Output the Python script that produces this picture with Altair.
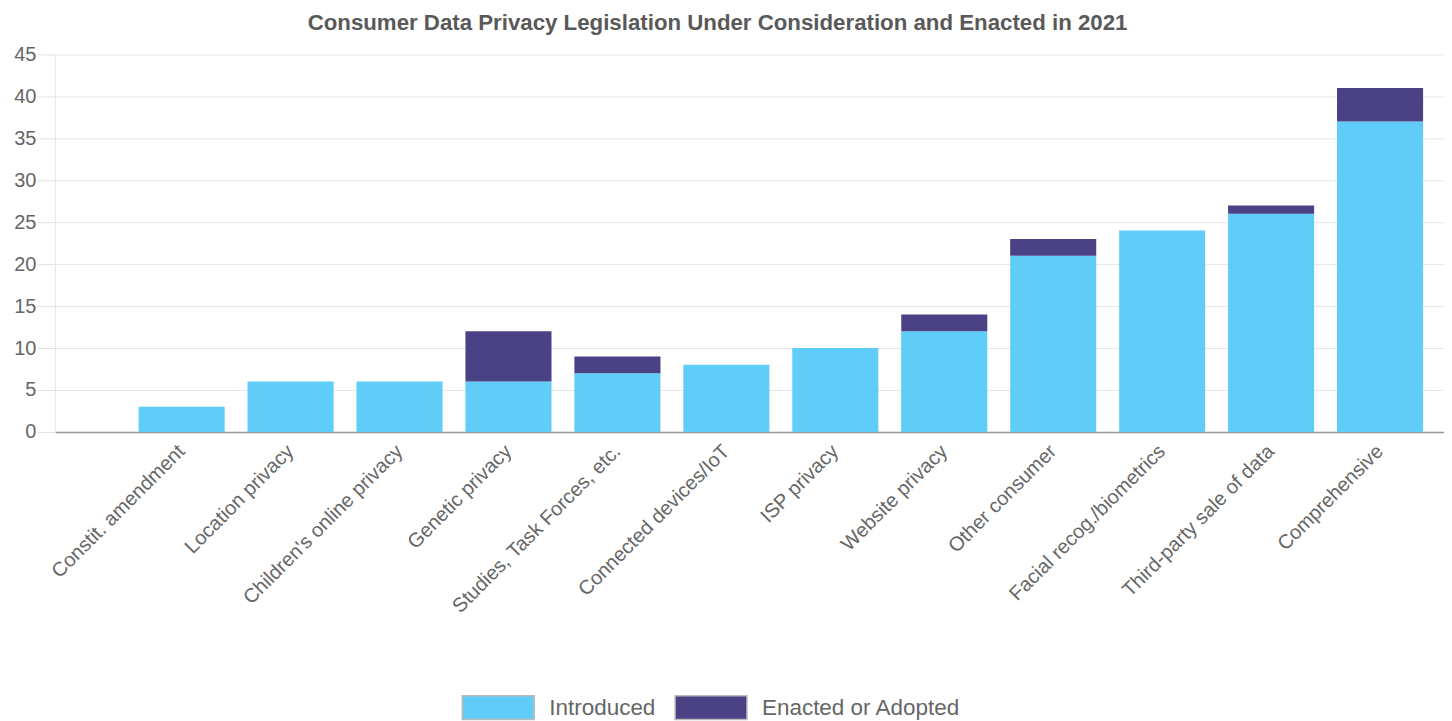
import altair as alt
import pandas as pd

categories = [
    "Constit. amendment", "Location privacy", "Children's online privacy",
    "Genetic privacy", "Studies, Task Forces, etc.", "Connected devices/IoT",
    "ISP privacy", "Website privacy", "Other consumer",
    "Facial recog./biometrics", "Third-party sale of data", "Comprehensive",
]
introduced = [3, 6, 6, 6, 7, 8, 10, 12, 21, 24, 26, 37]
enacted = [0, 0, 0, 6, 2, 0, 0, 2, 2, 0, 1, 4]
series = ["Introduced", "Enacted or Adopted"]
colors = ["#60CDF9", "#4B4286"]

rows = []
for c, a, b in zip(categories, introduced, enacted):
    rows.append({"category": c, "series": series[0], "value": a, "ord": 0})
    rows.append({"category": c, "series": series[1], "value": b, "ord": 1})
df = pd.DataFrame(rows)

font = "Liberation Sans"

chart = alt.Chart(df).mark_bar().encode(
    x=alt.X("category:N", sort=categories, title=None,
            scale=alt.Scale(paddingInner=0.21, paddingOuter=0.48, align=0.8),
            axis=alt.Axis(labelAngle=-45, labelAlign="right", labelBaseline="middle",
                          labelPadding=16, ticks=False, labelFontSize=20, labelLimit=0,
                          labelColor="#666", labelFont=font, domainColor="#999",
                          domainWidth=1.5, grid=False)),
    y=alt.Y("value:Q", stack="zero", title=None,
            scale=alt.Scale(domain=[0, 45], nice=False),
            axis=alt.Axis(values=list(range(0, 50, 5)), labelFontSize=20,
                          labelColor="#666", labelFont=font, tickSize=18,
                          tickColor="#e2e2e2", gridColor="#e6e6e6",
                          domainColor="#e6e6e6", labelPadding=1)),
    color=alt.Color("series:N", scale=alt.Scale(domain=series, range=colors),
                    legend=alt.Legend(title=None, orient="none", legendX=407, legendY=617,
                                      direction="horizontal",
                                      symbolType="M-1,-0.33L1,-0.33L1,0.33L-1,0.33Z",
                                      symbolSize=5184, symbolStrokeColor="#bbb",
                                      symbolStrokeWidth=1.5, symbolOpacity=1,
                                      labelFontSize=22.5, labelColor="#666", labelFont=font,
                                      labelLimit=0, labelOffset=14, columnPadding=16)),
    order=alt.Order("ord:Q"),
).properties(
    width=1391, height=378,
    title=alt.TitleParams("Consumer Data Privacy Legislation Under Consideration and Enacted in 2021",
                          fontSize=22.3, font=font, fontWeight="bold", color="#595959",
                          anchor="middle", offset=10, dx=-32),
    padding={"left": 5, "top": 3, "right": 0, "bottom": 0},
).configure_view(stroke=None)

chart.save("out.html", embed_options={"renderer": "svg", "actions": False})
